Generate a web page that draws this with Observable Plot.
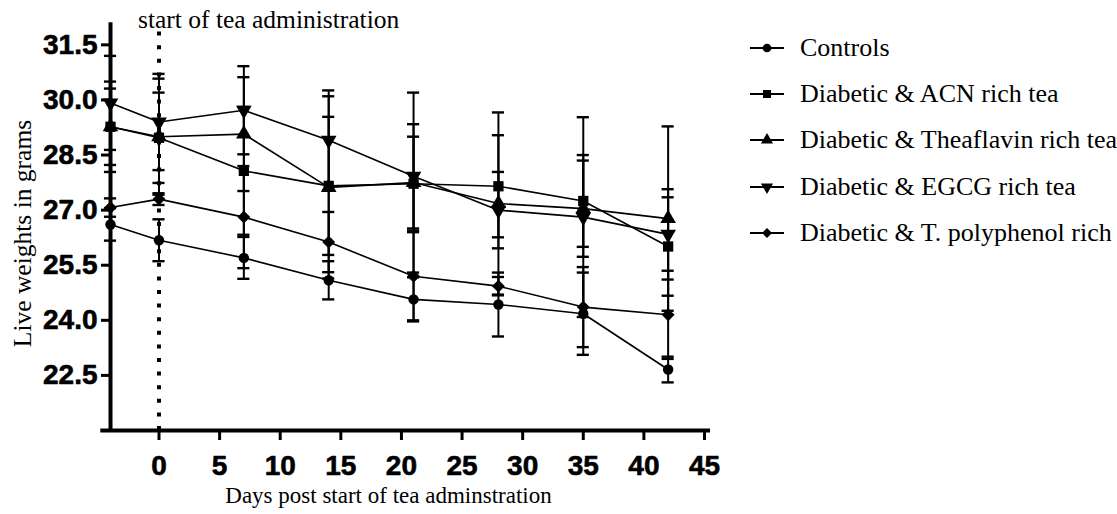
<!DOCTYPE html>
<html><head><meta charset="utf-8">
<script src="https://cdn.jsdelivr.net/npm/d3@7"></script>
<script src="https://cdn.jsdelivr.net/npm/@observablehq/plot@0.6"></script>
<style>
html,body{margin:0;padding:0;background:#fff;overflow:hidden;}
#wrap{position:relative;width:1117px;height:514px;overflow:hidden;}
#legend{position:absolute;left:750px;top:25px;font-family:"Liberation Serif","Times New Roman",serif;font-size:26px;color:#000;white-space:nowrap;}
.row{display:flex;align-items:center;height:46.2px;}
.row svg{margin-right:16px;flex:none;}
</style></head><body><div id="wrap"><div id="legend"></div></div>
<script>
// ---- data ----
const days = [-4, 0, 7, 14, 21, 28, 35, 42];
const seriesNames = ["Controls", "Diabetic & ACN rich tea", "Diabetic & Theaflavin rich tea", "Diabetic & EGCG rich tea", "Diabetic & T. polyphenol rich"];
const controls    = [26.61, 26.18, 25.70, 25.09, 24.57, 24.43, 24.18, 22.66];
const controlsErr = [0.44, 0.57, 0.57, 0.52, 0.60, 0.87, 1.12, 0.35];
const acn         = [29.27, 28.97, 28.07, 27.66, 27.72, 27.65, 27.25, 26.01];
const acnErr      = [1.04, 1.23, 1.74, 1.88, 1.28, 1.39, 1.25, 1.34];
const thea        = [29.27, 29.00, 29.07, 27.62, 27.75, 27.18, 27.04, 26.77];
const theaErr     = [1.23, 1.58, 1.55, 2.48, 2.45, 2.48, 1.31, 2.51];
const egcg        = [29.92, 29.40, 29.72, 28.90, 27.92, 27.00, 26.81, 26.34];
const egcgErr     = [1.28, 1.31, 1.20, 1.36, 1.42, 1.04, 2.72, 1.23];
const poly        = [27.07, 27.30, 26.81, 26.13, 25.20, 24.93, 24.36, 24.15];
const polyErr     = [0.25, 0.16, 1.39, 0.82, 1.20, 0.25, 1.09, 1.20];
const xTicks = [0, 5, 10, 15, 20, 25, 30, 35, 40, 45];
const yTicks = [22.5, 24.0, 25.5, 27.0, 28.5, 30.0, 31.5];
const startDay = 0;

// ---- symbols ----
const triangleDown = {
  draw(context, size) {
    const sqrt3 = Math.sqrt(3);
    const y = -Math.sqrt(size / (sqrt3 * 3));
    context.moveTo(0, -y * 2);
    context.lineTo(-sqrt3 * y, y);
    context.lineTo(sqrt3 * y, y);
    context.closePath();
  }
};
const symbols = [d3.symbolCircle, d3.symbolSquare, d3.symbolTriangle, triangleDown, d3.symbolDiamond2];
const values = [controls, acn, thea, egcg, poly];
const errs = [controlsErr, acnErr, theaErr, egcgErr, polyErr];

const table = [];
seriesNames.forEach((s, i) => days.forEach((d, j) => table.push({series: s, si: i, day: d, v: values[i][j], e: errs[i][j]})));

const serif = "'Liberation Serif','Times New Roman',serif";
const sans = "'Liberation Sans',Arial,sans-serif";

const marks = [
  Plot.ruleX([startDay], {y1: 21, y2: 32, strokeWidth: 4, strokeDasharray: "4,9.6"}),
  Plot.ruleX(table, {x: "day", y1: d => d.v - d.e, y2: d => d.v + d.e, strokeWidth: 2}),
  Plot.ruleY(table, {y: d => d.v + d.e, x1: d => d.day - 0.5, x2: d => d.day + 0.5, strokeWidth: 2.4}),
  Plot.ruleY(table, {y: d => d.v - d.e, x1: d => d.day - 0.5, x2: d => d.day + 0.5, strokeWidth: 2.4}),
];
seriesNames.forEach((s, i) => {
  const rows = table.filter(d => d.si === i);
  marks.push(Plot.line(rows, {x: "day", y: "v", stroke: "black", strokeWidth: 1.6}));
  marks.push(Plot.dot(rows, {x: "day", y: "v", symbol: symbols[i], fill: "black", stroke: "none", r: i === 0 ? 5.2 : 5.8}));
});
marks.push(
  Plot.ruleY([21], {x1: -4.8, x2: 45.5, strokeWidth: 4}),
  Plot.ruleX([-4], {y1: 20.95, y2: 32.1, strokeWidth: 4}),
  Plot.axisY({ticks: yTicks, tickFormat: () => "", tickSize: 9, strokeWidth: 3, label: null}),
  Plot.axisX({ticks: xTicks, tickFormat: () => "", tickSize: 10, strokeWidth: 3, label: null}),
  Plot.text(yTicks, {x: -4, y: d => d, text: d => d.toFixed(1), textAnchor: "end", dx: -13, fontSize: 28, fontWeight: "bold", fontFamily: sans, fill: "black", stroke: "black", strokeWidth: 0.6}),
  Plot.text(xTicks, {x: d => d, y: 21, text: d => String(d), dy: 36, fontSize: 28, fontWeight: "bold", fontFamily: sans, fill: "black", stroke: "black", strokeWidth: 0.6}),
  Plot.text(["Live weights in grams"], {text: d => d, frameAnchor: "left", textAnchor: "middle", rotate: -90, dx: -88, dy: 5, fontSize: 25.5, fontFamily: serif}),
  Plot.text(["Days post start of tea adminstration"], {text: d => d, frameAnchor: "bottom", textAnchor: "middle", dx: -19, dy: 72, fontSize: 23, fontFamily: serif}),
  Plot.text(["start of tea administration"], {text: d => d, x: startDay, y: 32, textAnchor: "start", dx: -21, dy: -7, fontSize: 25.5, fontFamily: serif})
);

const chart = Plot.plot({
  width: 1117, height: 514,
  marginLeft: 110, marginRight: 413, marginTop: 26, marginBottom: 84,
  x: {domain: [-4, 45]},
  y: {domain: [21, 32]},
  style: {background: "white", color: "black", overflow: "visible"},
  marks
});
document.getElementById("wrap").prepend(chart);

// ---- legend ----
const legend = d3.select("#legend");
seriesNames.forEach((s, i) => {
  const row = legend.append("div").attr("class", "row");
  const svg = row.append("svg").attr("width", 34).attr("height", 14);
  svg.append("line").attr("x1", 0).attr("x2", 34).attr("y1", 7).attr("y2", 7).attr("stroke", "black").attr("stroke-width", 2);
  svg.append("path").attr("transform", "translate(17,7)").attr("d", d3.symbol(symbols[i], i === 0 ? 60 : 64)()).attr("fill", "black");
  row.append("span").text(s);
});
</script>
</body></html>
